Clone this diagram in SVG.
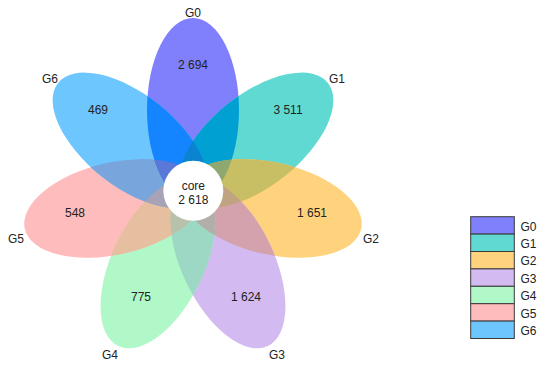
<svg xmlns="http://www.w3.org/2000/svg" xmlns:xlink="http://www.w3.org/1999/xlink" width="550" height="376" viewBox="0 0 550 376">
<style>
text{font-family:"Liberation Sans",Arial,sans-serif;font-size:12px;fill:#222;}
.c{text-anchor:middle;}
.lg{stroke:#3a3a3a;stroke-width:1;}
</style>
<defs>
<ellipse id="p0" cx="0" cy="-80.5" rx="46" ry="92" transform="translate(193 190.5) rotate(0)"/>
<ellipse id="p1" cx="0" cy="-80.5" rx="46" ry="92" transform="translate(193 190.5) rotate(51.4286)"/>
<ellipse id="p2" cx="0" cy="-80.5" rx="46" ry="92" transform="translate(193 190.5) rotate(102.857)"/>
<ellipse id="p3" cx="0" cy="-80.5" rx="46" ry="92" transform="translate(193 190.5) rotate(154.286)"/>
<ellipse id="p4" cx="0" cy="-80.5" rx="46" ry="92" transform="translate(193 190.5) rotate(205.714)"/>
<ellipse id="p5" cx="0" cy="-80.5" rx="46" ry="92" transform="translate(193 190.5) rotate(257.143)"/>
<ellipse id="p6" cx="0" cy="-80.5" rx="46" ry="92" transform="translate(193 190.5) rotate(308.571)"/>
<clipPath id="c0"><ellipse cx="0" cy="-80.5" rx="46" ry="92" transform="translate(193 190.5) rotate(0)"/></clipPath>
<clipPath id="c1"><ellipse cx="0" cy="-80.5" rx="46" ry="92" transform="translate(193 190.5) rotate(51.4286)"/></clipPath>
<clipPath id="c2"><ellipse cx="0" cy="-80.5" rx="46" ry="92" transform="translate(193 190.5) rotate(102.857)"/></clipPath>
<clipPath id="c3"><ellipse cx="0" cy="-80.5" rx="46" ry="92" transform="translate(193 190.5) rotate(154.286)"/></clipPath>
<clipPath id="c4"><ellipse cx="0" cy="-80.5" rx="46" ry="92" transform="translate(193 190.5) rotate(205.714)"/></clipPath>
<clipPath id="c5"><ellipse cx="0" cy="-80.5" rx="46" ry="92" transform="translate(193 190.5) rotate(257.143)"/></clipPath>
<clipPath id="c6"><ellipse cx="0" cy="-80.5" rx="46" ry="92" transform="translate(193 190.5) rotate(308.571)"/></clipPath>
</defs>
<rect width="550" height="376" fill="#ffffff"/>

<g id="G0"><use xlink:href="#p0" fill="#8080fc"/></g>
<g id="G1"><use xlink:href="#p1" fill="#60d9d3"/></g>
<g id="G2"><use xlink:href="#p2" fill="#ffd37e"/></g>
<g id="G3"><use xlink:href="#p3" fill="#d3bbf1"/></g>
<g id="G4"><use xlink:href="#p4" fill="#b1f8c9"/></g>
<g id="G5"><use xlink:href="#p5" fill="#ffbcbc"/></g>
<g id="G6"><use xlink:href="#p6" fill="#6ec6ff"/></g>

<g id="overlaps">
<use xlink:href="#p1" clip-path="url(#c0)" fill="#00a0d2"/>
<use xlink:href="#p2" clip-path="url(#c1)" fill="#c8be64"/>
<use xlink:href="#p3" clip-path="url(#c2)" fill="#d4a2ac"/>
<use xlink:href="#p4" clip-path="url(#c3)" fill="#9dd8c4"/>
<use xlink:href="#p5" clip-path="url(#c4)" fill="#e6bea0"/>
<use xlink:href="#p6" clip-path="url(#c5)" fill="#78a6dc"/>
<use xlink:href="#p0" clip-path="url(#c6)" fill="#1584ff"/>
<g clip-path="url(#c0)"><use xlink:href="#p2" clip-path="url(#c1)" fill="#8fa870"/></g>
<g clip-path="url(#c1)"><use xlink:href="#p3" clip-path="url(#c2)" fill="#c0a482"/></g>
<g clip-path="url(#c2)"><use xlink:href="#p4" clip-path="url(#c3)" fill="#b2aeaa"/></g>
<g clip-path="url(#c3)"><use xlink:href="#p5" clip-path="url(#c4)" fill="#b8c2aa"/></g>
<g clip-path="url(#c4)"><use xlink:href="#p6" clip-path="url(#c5)" fill="#a8a2b6"/></g>
<g clip-path="url(#c5)"><use xlink:href="#p0" clip-path="url(#c6)" fill="#5a78d8"/></g>
<g clip-path="url(#c6)"><use xlink:href="#p1" clip-path="url(#c0)" fill="#0a84d0"/></g>
</g>

<g id="labels">
<text class="c" x="193" y="17">G0</text>
<text class="c" x="193" y="69">2 694</text>
<text class="c" x="337" y="83">G1</text>
<text class="c" x="288" y="114">3 511</text>
<text class="c" x="371" y="243">G2</text>
<text class="c" x="312" y="217">1 651</text>
<text class="c" x="277" y="359">G3</text>
<text class="c" x="246" y="301">1 624</text>
<text class="c" x="110" y="359">G4</text>
<text class="c" x="141" y="301">775</text>
<text class="c" x="16" y="243">G5</text>
<text class="c" x="75" y="217">548</text>
<text class="c" x="50" y="83">G6</text>
<text class="c" x="98" y="114">469</text>
</g>

<g id="core">
<circle cx="193.3" cy="190.7" r="30" fill="#ffffff"/>
<text class="c" x="193.3" y="190">core</text>
<text class="c" x="193.3" y="203.5">2 618</text>
</g>

<g id="legend">
<rect class="lg" x="470.7" y="216.7" width="43.6" height="17.4" fill="#8080fc"/>
<rect class="lg" x="470.7" y="234.1" width="43.6" height="17.4" fill="#60d9d3"/>
<rect class="lg" x="470.7" y="251.5" width="43.6" height="17.4" fill="#ffd37e"/>
<rect class="lg" x="470.7" y="268.9" width="43.6" height="17.4" fill="#d3bbf1"/>
<rect class="lg" x="470.7" y="286.3" width="43.6" height="17.4" fill="#b1f8c9"/>
<rect class="lg" x="470.7" y="303.7" width="43.6" height="17.4" fill="#ffbcbc"/>
<rect class="lg" x="470.7" y="321.1" width="43.6" height="17.4" fill="#6ec6ff"/>
<text x="520.5" y="230.5">G0</text>
<text x="520.5" y="247.9">G1</text>
<text x="520.5" y="265.3">G2</text>
<text x="520.5" y="282.7">G3</text>
<text x="520.5" y="300.1">G4</text>
<text x="520.5" y="317.5">G5</text>
<text x="520.5" y="334.9">G6</text>
</g>
</svg>
